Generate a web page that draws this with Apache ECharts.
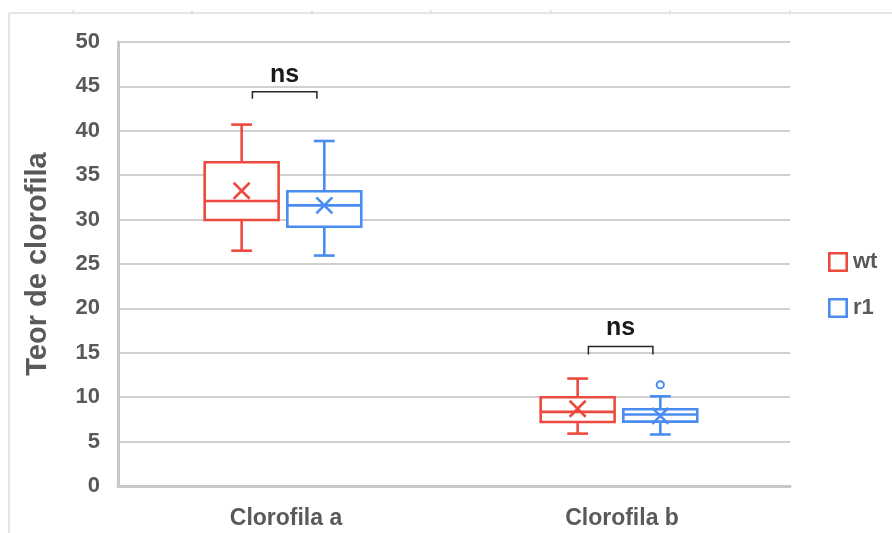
<!DOCTYPE html>
<html>
<head>
<meta charset="utf-8">
<script src="https://cdn.jsdelivr.net/npm/echarts@6/dist/echarts.min.js"></script>
<style>
  html, body { margin: 0; padding: 0; background: #ffffff; }
  #chart { width: 892px; height: 533px; }
</style>
</head>
<body>
<div id="chart"></div>
<script>
// Categories on the x axis
const categories = ['Clorofila a', 'Clorofila b'];
const groupNames = ['wt', 'r1'];

// Box statistics per category: [min, Q1, median, Q3, max]
const wtStats = [
  [26.5, 29.95, 32.1, 36.45, 40.7],
  [5.9, 7.2, 8.35, 10.0, 12.1]
];
const wtMeans = [33.25, 8.7];

const r1Stats = [
  [25.95, 29.2, 31.6, 33.2, 38.85],
  [5.8, 7.25, 8.05, 8.65, 10.1]
];
const r1Means = [31.6, 7.9];

// Outliers: [category index, value]
const r1Outliers = [[1, 11.4]];
const wtOutliers = [];

// Significance brackets: [category index, bracket level, tip level, label level]
const sigBrackets = [[0, 44.4, 43.6, 46.3], [1, 15.7, 14.8, 17.8]];
const sigLabels = ['ns', 'ns'];

// y axis range
const yMin = 0, yMax = 50, yStep = 5;

const RED = '#EC4A3F';
const BLUE = '#4A8CF0';
const AXIS_TEXT = '#595959';
const FONT = 'Arial, "Liberation Sans", sans-serif';

const chart = echarts.init(document.getElementById('chart'), null, { renderer: 'canvas' });

function boxData(stats, means) {
  return stats.map((s, i) => [i, s[0], s[1], s[2], s[3], s[4], means[i]]);
}

// Draws one box with whiskers, caps, median line and an "x" mean marker
function makeBoxRenderer(offsetFrac, color) {
  return function (params, api) {
    const cat = api.value(0);
    const band = api.size([1, 0])[0];
    const cx = api.coord([cat, 0])[0] + offsetFrac * band;
    const bw = band * 0.22;
    const cap = band * 0.062;
    const yv = (i) => api.coord([cat, api.value(i)])[1];
    const yMinP = yv(1), yQ1 = yv(2), yMed = yv(3), yQ3 = yv(4), yMaxP = yv(5), yMean = yv(6);
    const st = { stroke: color, lineWidth: 2.6, fill: null };
    const m = 8;
    return {
      type: 'group',
      children: [
        { type: 'line', shape: { x1: cx, y1: yMaxP, x2: cx, y2: yQ3 }, style: st },
        { type: 'line', shape: { x1: cx, y1: yQ1, x2: cx, y2: yMinP }, style: st },
        { type: 'line', shape: { x1: cx - cap / 2, y1: yMaxP, x2: cx + cap / 2, y2: yMaxP }, style: st },
        { type: 'line', shape: { x1: cx - cap / 2, y1: yMinP, x2: cx + cap / 2, y2: yMinP }, style: st },
        { type: 'rect', shape: { x: cx - bw / 2, y: yQ3, width: bw, height: yQ1 - yQ3 }, style: { stroke: color, lineWidth: 2.6, fill: '#ffffff' } },
        { type: 'line', shape: { x1: cx - bw / 2, y1: yMed, x2: cx + bw / 2, y2: yMed }, style: st },
        { type: 'line', shape: { x1: cx - m, y1: yMean - m, x2: cx + m, y2: yMean + m }, style: st },
        { type: 'line', shape: { x1: cx - m, y1: yMean + m, x2: cx + m, y2: yMean - m }, style: st }
      ]
    };
  };
}

function makeOutlierRenderer(offsetFrac, color) {
  return function (params, api) {
    const cat = api.value(0);
    const band = api.size([1, 0])[0];
    const p = api.coord([cat, api.value(1)]);
    return {
      type: 'circle',
      shape: { cx: p[0] + offsetFrac * band, cy: p[1], r: 3.6 },
      style: { stroke: color, lineWidth: 2, fill: '#ffffff' }
    };
  };
}

function bracketRenderer(params, api) {
  const cat = api.value(0);
  const band = api.size([1, 0])[0];
  const c = api.coord([cat, 0])[0];
  const x1 = c - 0.10 * band, x2 = c + 0.092 * band;
  const yBar = api.coord([cat, api.value(1)])[1];
  const yTip = api.coord([cat, api.value(2)])[1];
  const yTxt = api.coord([cat, api.value(3)])[1];
  const st = { stroke: '#262626', lineWidth: 1.5, fill: null };
  return {
    type: 'group',
    children: [
      { type: 'polyline', shape: { points: [[x1, yTip], [x1, yBar], [x2, yBar], [x2, yTip]] }, style: st },
      { type: 'text', x: (x1 + x2) / 2, y: yTxt,
        style: { text: sigLabels[params.dataIndex], fill: '#1a1a1a', font: 'bold 25px ' + FONT, align: 'center', verticalAlign: 'middle' } }
    ]
  };
}

const WT_OFF = -0.132, R1_OFF = 0.114;
const squareIcon = 'path://M0,0H20V20H0Z M2.6,2.6V17.4H17.4V2.6Z';

// Thin sheet-style frame along the top and left edges
const frame = [
  { type: 'line', shape: { x1: 9, y1: 13, x2: 892, y2: 13 }, style: { stroke: '#dcdcdc', lineWidth: 1.5 } },
  { type: 'line', shape: { x1: 9, y1: 13, x2: 9, y2: 533 }, style: { stroke: '#dcdcdc', lineWidth: 1.5 } }
];
[73, 192, 312, 431, 551, 670, 790].forEach(x => frame.push(
  { type: 'line', shape: { x1: x, y1: 10, x2: x, y2: 13 }, style: { stroke: '#d0d0d0', lineWidth: 1 } }));

chart.setOption({
  backgroundColor: '#ffffff',
  animation: false,
  graphic: frame,
  grid: { left: 118, right: 102, top: 42, bottom: 47 },
  legend: {
    data: groupNames.map(n => ({ name: n, icon: squareIcon })),
    orient: 'vertical',
    left: 823,
    top: 246,
    itemWidth: 20,
    itemHeight: 20,
    itemGap: 24,
    textStyle: { color: AXIS_TEXT, fontSize: 22, fontWeight: 'bold', fontFamily: FONT },
    selectedMode: false
  },
  xAxis: {
    type: 'category',
    data: categories,
    axisLine: { lineStyle: { color: '#c8c8c8', width: 3 } },
    axisTick: { show: false },
    axisLabel: { color: AXIS_TEXT, fontSize: 23, fontWeight: 'bold', fontFamily: FONT, margin: 21 },
    splitLine: { show: false }
  },
  yAxis: {
    type: 'value',
    min: yMin, max: yMax, interval: yStep,
    name: 'Teor de clorofila',
    nameLocation: 'middle',
    nameGap: 66,
    nameTextStyle: { color: AXIS_TEXT, fontSize: 29, fontWeight: 'bold', fontFamily: FONT },
    axisLine: { show: true, lineStyle: { color: '#c8c8c8', width: 3 } },
    axisTick: { show: false },
    axisLabel: { color: AXIS_TEXT, fontSize: 22, fontWeight: 'bold', fontFamily: FONT, margin: 18 },
    splitLine: { lineStyle: { color: '#d0d0d0', width: 1.8 } }
  },
  series: [
    { name: 'wt', type: 'custom', renderItem: makeBoxRenderer(WT_OFF, RED), itemStyle: { color: RED },
      encode: { x: 0, y: [1, 2, 3, 4, 5, 6] }, data: boxData(wtStats, wtMeans), z: 3 },
    { name: 'r1', type: 'custom', renderItem: makeBoxRenderer(R1_OFF, BLUE), itemStyle: { color: BLUE },
      encode: { x: 0, y: [1, 2, 3, 4, 5, 6] }, data: boxData(r1Stats, r1Means), z: 3 },
    { name: 'r1', type: 'custom', renderItem: makeOutlierRenderer(R1_OFF, BLUE), itemStyle: { color: BLUE },
      encode: { x: 0, y: 1 }, data: r1Outliers, z: 4 },
    { name: 'wt', type: 'custom', renderItem: makeOutlierRenderer(WT_OFF, RED), itemStyle: { color: RED },
      encode: { x: 0, y: 1 }, data: wtOutliers, z: 4 },
    { name: 'sig', type: 'custom', renderItem: bracketRenderer, encode: { x: 0, y: [1, 2, 3] },
      data: sigBrackets, z: 5 }
  ]
});
</script>
</body>
</html>
